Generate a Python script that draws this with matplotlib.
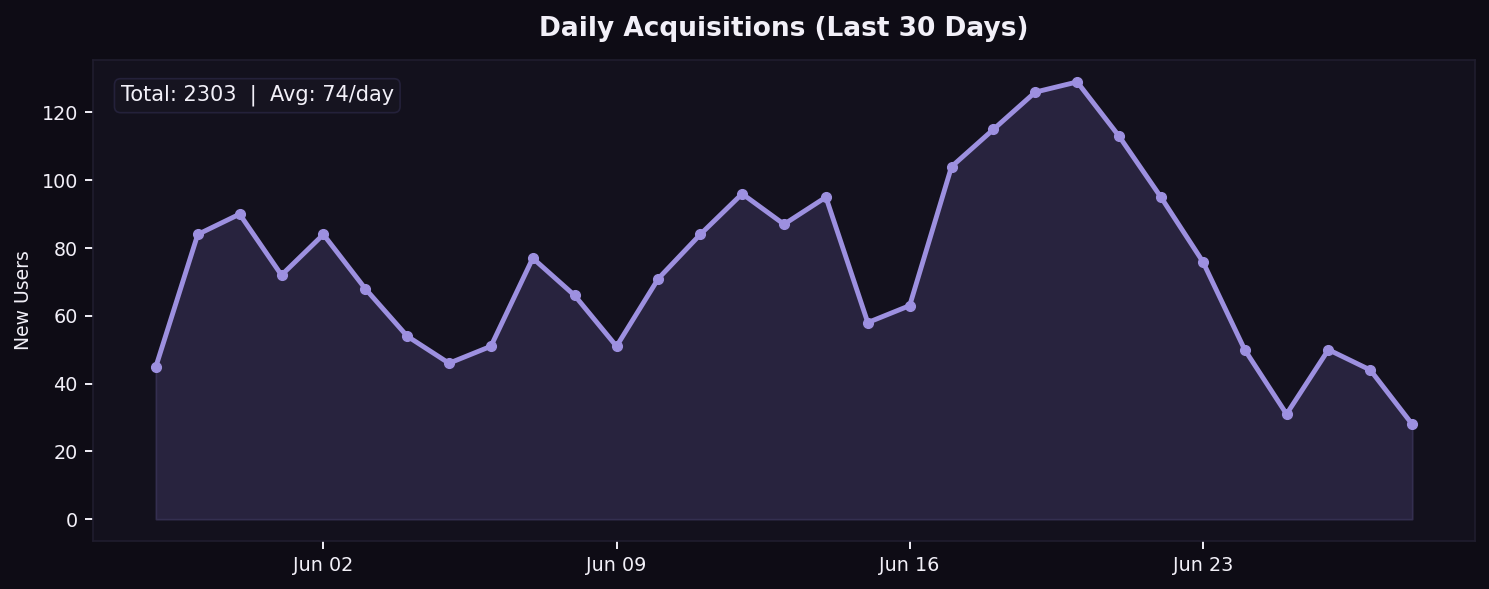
import numpy as np
import pandas as pd
import matplotlib
matplotlib.use("Agg")
import matplotlib.pyplot as plt
import matplotlib.dates as mdates

dates = pd.date_range("2024-05-29", "2024-06-28", freq="D")
new_users = [45, 84, 90, 72, 84, 68, 54, 46, 51, 77, 66, 51, 71, 84, 96, 87, 95,
             58, 63, 104, 115, 126, 129, 113, 95, 76, 50, 31, 50, 44, 28]

BG = "#0e0c15"
AX_BG = "#13111d"
LINE = "#9d90e0"
TXT = "#f2f0f8"

plt.rcParams["font.family"] = "DejaVu Sans"

fig = plt.figure(figsize=(14.89, 5.89), dpi=100, facecolor=BG)
ax = fig.add_axes([0.0625, 0.0815, 0.9281, 0.8165])
ax.set_facecolor(AX_BG)

ax.fill_between(dates, new_users, 0, color="#2e2847", alpha=0.8,
                edgecolor="#3a3458", linewidth=1.2)
ax.plot(dates, new_users, color=LINE, lw=3.5, marker="o", ms=7, zorder=3)

total = sum(new_users)
avg = total / len(new_users)
ax.text(0.02, 0.926, f"Total: {total}  |  Avg: {avg:.0f}/day", transform=ax.transAxes,
        color=TXT, fontsize=15, va="center", ha="left",
        bbox=dict(boxstyle="round,pad=0.3", fc="#161420", ec="#24213a", lw=1.2))

ax.set_title("Daily Acquisitions (Last 30 Days)", color=TXT, fontsize=19,
             fontweight="bold", pad=17)
ax.set_ylabel("New Users", color=TXT, fontsize=13.5, labelpad=6)

ax.xaxis.set_major_locator(mdates.WeekdayLocator(byweekday=mdates.SU))
ax.xaxis.set_major_formatter(mdates.DateFormatter("%b %d"))
ax.set_yticks([0, 20, 40, 60, 80, 100, 120])
ax.tick_params(colors=TXT, labelsize=13.8, length=6, width=1.4, pad=5)
for s in ax.spines.values():
    s.set_color("#201d2e")
    s.set_linewidth(1.2)

fig.savefig("out.png", facecolor=BG)
